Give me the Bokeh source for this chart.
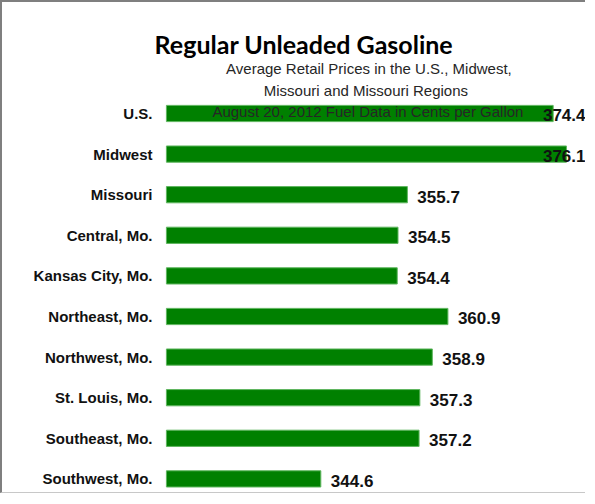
from bokeh.plotting import figure
from bokeh.models import ColumnDataSource, Range1d, FixedTicker
from bokeh.core.properties import value
from bokeh.embed import file_html
from bokeh.resources import INLINE

regions = ["U.S.", "Midwest", "Missouri", "Central, Mo.", "Kansas City, Mo.",
           "Northeast, Mo.", "Northwest, Mo.", "St. Louis, Mo.", "Southeast, Mo.",
           "Southwest, Mo."]
prices = [374.4, 376.1, 355.7, 354.5, 354.4, 360.9, 358.9, 357.3, 357.2, 344.6]

title = "Regular Unleaded Gasoline"
subtitle_lines = ["Average Retail Prices in the U.S., Midwest,",
                  "Missouri and Missouri Regions",
                  "August 20, 2012 Fuel Data in Cents per Gallon"]

x_base = 324.8            # value-axis origin (where bars start)
x_range = (323.4, 378.8)
y_range = (9.409, -2.734)  # rows: 0 = U.S. (top) ... 9 = Southwest (bottom)

FONT = "Liberation Sans"
rows = list(range(len(regions)))

p = figure(width=585, height=493, output_backend="svg", toolbar_location=None,
           x_range=Range1d(*x_range), y_range=Range1d(*y_range),
           x_axis_location=None,
           min_border_left=153, min_border_right=0, min_border_top=0,
           min_border_bottom=0)
p.styles = {"border-top": "2px solid #7f7f7f", "border-left": "2px solid #7f7f7f",
            "border-bottom": "1px solid #c8c8c8"}
p.outline_line_color = None
p.xgrid.visible = False
p.ygrid.visible = False

src = ColumnDataSource(dict(row=rows, price=prices))
p.hbar(y="row", right="price", left=x_base, height=0.40, source=src,
       fill_color="#008000", line_color="#5fb65f", line_width=1)

# value labels: after the bar end, pulled back inside when they would overflow
px_per_unit = (585 - 153) / (x_range[1] - x_range[0])
label_w = 44 / px_per_unit
off = 10 / px_per_unit
inside = [v + off + label_w > x_range[1] for v in prices]
lab_x = [x_range[1] - 2 / px_per_unit if f else v + off for v, f in zip(prices, inside)]
lab_align = ["right" if f else "left" for f in inside]
lsrc = ColumnDataSource(dict(row=rows, x=lab_x, align=lab_align,
                             text=[f"{v:.1f}" for v in prices]))
p.text(x="x", y="row", text="text", source=lsrc, text_align="align",
       text_baseline="middle", y_offset=2, text_font=value(FONT),
       text_font_style="bold", text_font_size="17px", text_color="#111111")

ax = p.yaxis[0]
ax.ticker = FixedTicker(ticks=rows)
ax.major_label_overrides = {i: r for i, r in zip(rows, regions)}
ax.axis_line_color = None
ax.major_tick_line_color = None
ax.minor_tick_line_color = None
ax.major_label_standoff = -3
ax.major_label_text_font = FONT
ax.major_label_text_font_style = "bold"
ax.major_label_text_font_size = "15px"
ax.major_label_text_color = "#111111"

# titles, placed relative to the U.S. row and the bar baseline
p.text(x=[x_base], y=[0], text=[title], x_offset=137.5, y_offset=-69.5,
       text_align="center", text_baseline="alphabetic", text_font=value("Lato"),
       text_font_style="bold", text_font_size="25px", text_color="#000000")
sub_off = [(202.5, -44.5), (199.5, -22.8), (201.5, -1.5)]
for (dx, dy), line in zip(sub_off, subtitle_lines):
    p.text(x=[x_base], y=[0], text=[line], x_offset=dx, y_offset=dy,
           text_align="center", text_baseline="alphabetic", text_font=value(FONT),
           text_font_size="15px", text_color="#262626")

open("out.html", "w").write(file_html(p, INLINE))
